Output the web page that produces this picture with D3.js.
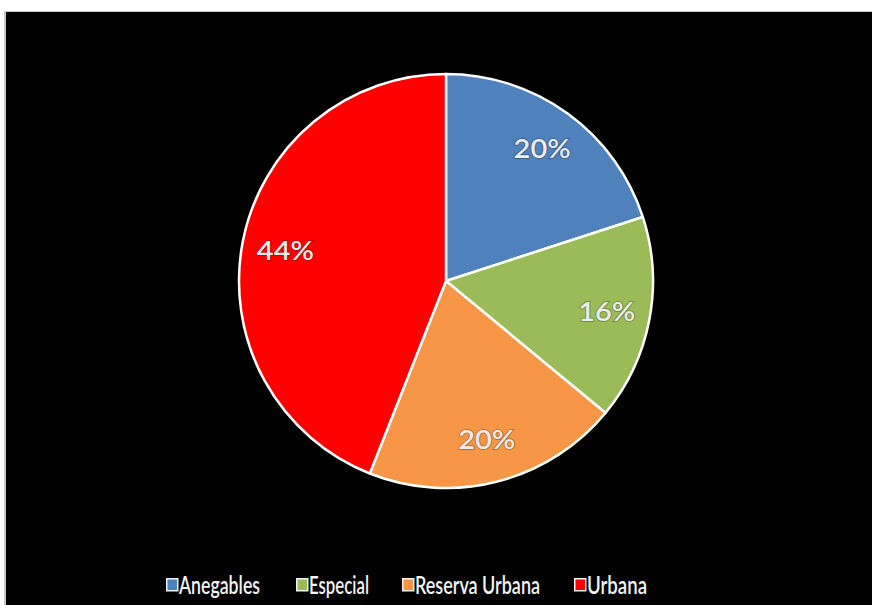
<!DOCTYPE html>
<html><head><meta charset="utf-8">
<script src="https://cdn.jsdelivr.net/npm/d3@7"></script>
<style>html,body{margin:0;padding:0;background:#fff;}svg{display:block;}</style>
</head><body>
<svg id="chart" width="872" height="605"></svg>
<script>
const categories = ["Anegables", "Especial", "Reserva Urbana", "Urbana"];
const values = [20, 16, 20, 44];
const colors = ["#4F81BD", "#9BBB59", "#F79646", "#FF0000"];

const svg = d3.select("#chart");
const W = 872, H = 605;
// frame
svg.append("rect").attr("x", 0).attr("y", 0).attr("width", W).attr("height", H).attr("fill", "#fff");
svg.append("rect").attr("x", 4).attr("y", 11).attr("width", W - 4).attr("height", H - 11).attr("fill", "#c8c8c8");
svg.append("rect").attr("x", 6).attr("y", 12).attr("width", W - 6).attr("height", H - 12).attr("fill", "#000");

const cx = 446, cy = 281, R = 207;
const pie = d3.pie().sort(null).value(d => d.v);
const data = pie(categories.map((c, i) => ({c, v: values[i], col: colors[i]})));
const arc = d3.arc().innerRadius(0).outerRadius(R);
const labelArc = d3.arc().innerRadius(R * 0.79).outerRadius(R * 0.79);
const total = d3.sum(values);
const fmt = d3.format(".0%");

const g = svg.append("g").attr("transform", `translate(${cx},${cy})`);
g.selectAll("path.slice").data(data).join("path")
  .attr("class", "slice")
  .attr("d", arc)
  .attr("fill", d => d.data.col)
  .attr("stroke", "#fff")
  .attr("stroke-width", 2.5)
  .attr("stroke-linejoin", "round");

const lbl = g.selectAll("g.lbl").data(data).join("g")
  .attr("class", "lbl")
  .attr("transform", d => { const [x, y] = labelArc.centroid(d); return `translate(${x},${y})`; });
lbl.append("text")
  .attr("text-anchor", "middle").attr("dy", "0.36em")
  .attr("font-family", "Lato, 'Open Sans', sans-serif")
  .attr("font-weight", "600").attr("font-size", 27)
  .attr("fill", "none").attr("stroke", "rgba(0,0,0,0.25)").attr("stroke-width", 2)
  .attr("textLength", 57).attr("lengthAdjust", "spacingAndGlyphs")
  .text(d => fmt(d.data.v / total));
lbl.append("text")
  .attr("text-anchor", "middle").attr("dy", "0.36em")
  .attr("font-family", "Lato, 'Open Sans', sans-serif")
  .attr("font-weight", "600").attr("font-size", 27)
  .attr("fill", "#ececec")
  .attr("textLength", 57).attr("lengthAdjust", "spacingAndGlyphs")
  .text(d => fmt(d.data.v / total));

// legend
const legX = [166, 296, 402, 574];
const legW = [81, 60, 125, 60];
const leg = svg.append("g");
categories.forEach((c, i) => {
  const gg = leg.append("g").attr("transform", `translate(${legX[i]},578)`);
  gg.append("rect").attr("x", 0.75).attr("y", 0.75).attr("width", 11).attr("height", 12)
    .attr("fill", colors[i]).attr("stroke", "#f2f2f2").attr("stroke-width", 1.5);
  gg.append("text").attr("x", 13).attr("y", 15.5)
    .attr("font-family", "Lato, 'Open Sans', sans-serif")
    .attr("font-weight", "600")
    .attr("font-size", 24).attr("fill", "#f4f4f4")
    .attr("textLength", legW[i]).attr("lengthAdjust", "spacingAndGlyphs")
    .text(c);
});
</script>
</body></html>
